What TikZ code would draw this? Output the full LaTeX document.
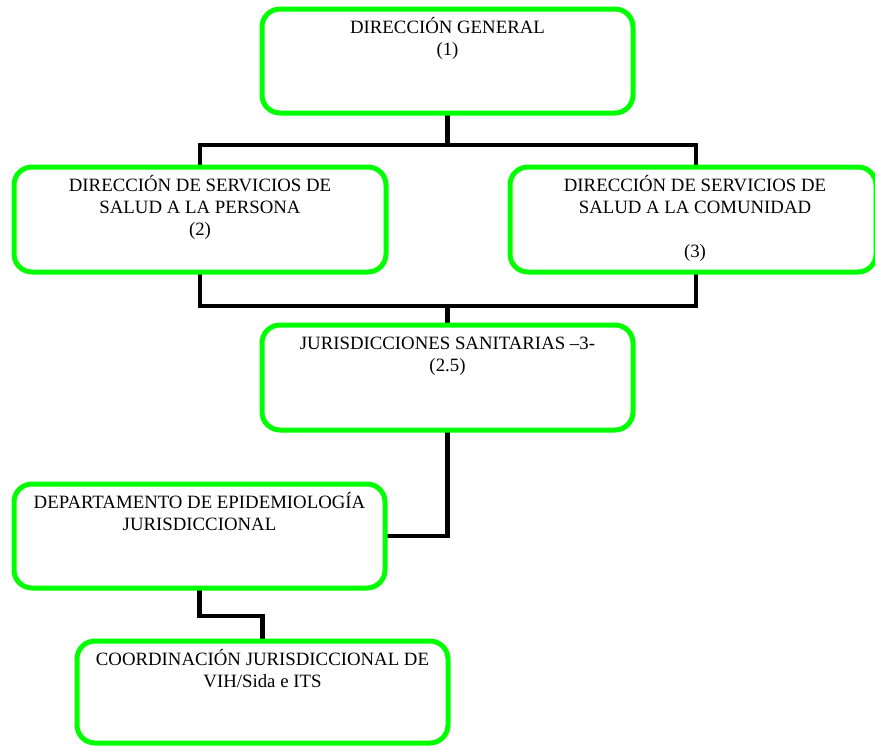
\documentclass[tikz,border=0pt]{standalone}
\usepackage{fontspec}
\setmainfont{Liberation Serif}
\pgfdeclarelayer{background}
\pgfsetlayers{background,main}
\definecolor{boxgreen}{RGB}{0,255,0}
\newcommand\lnstrut{\rule{0pt}{18pt}}
\begin{document}
\begin{tikzpicture}[x=1pt,y=-1pt,
  orgbox/.style={draw=boxgreen, fill=white, line width=5pt, rounded corners=18pt,
    anchor=north west, inner sep=0pt, outer sep=0pt},
  boxtext/.style={anchor=north, inner sep=0pt, align=center, yshift=-6pt,
    font=\fontsize{18.8pt}{22pt}\selectfont},
  conn/.style={draw=black, line width=4.6pt, line join=miter}]
\useasboundingbox (0,0) rectangle (875,747);

% organisation units
\node[orgbox, minimum width=371pt, minimum height=104pt,
  label={[boxtext]north:{\lnstrut DIRECCIÓN GENERAL\\(1)}}] (dg) at (262,9) {};
\node[orgbox, minimum width=372pt, minimum height=105pt,
  label={[boxtext]north:{\lnstrut DIRECCIÓN DE SERVICIOS DE\\SALUD A LA PERSONA\\(2)}}] (dsp) at (14,167) {};
\node[orgbox, minimum width=366pt, minimum height=105pt,
  label={[boxtext, xshift=2pt]north:{\lnstrut DIRECCIÓN DE SERVICIOS DE\\SALUD A LA COMUNIDAD\\[22pt](3)}}] (dsc) at (510,167) {};
\node[orgbox, minimum width=371pt, minimum height=105pt,
  label={[boxtext]north:{\lnstrut JURISDICCIONES SANITARIAS –3-\\(2.5)}}] (js) at (262,325) {};
\node[orgbox, minimum width=371pt, minimum height=104pt,
  label={[boxtext]north:{\lnstrut DEPARTAMENTO DE EPIDEMIOLOGÍA\\JURISDICCIONAL}}] (dep) at (14,484) {};
\node[orgbox, minimum width=371pt, minimum height=102pt,
  label={[boxtext]north:{\lnstrut COORDINACIÓN JURISDICCIONAL DE\\VIH/Sida e ITS}}] (coord) at (77,641) {};

% routing levels of the connectors
\coordinate (busA) at (0,145);
\coordinate (busB) at (0,306);
\coordinate (busC) at (0,616);
\coordinate (colR) at (696,0);

\begin{pgfonlayer}{background}
  \draw[conn] (dg.south) -- (dg.south |- busA);
  \draw[conn] (dsp.north) -- (dsp.north |- busA) -- (colR |- busA) -- (colR |- dsc.north);
  \draw[conn] (dsp.south) -- (dsp.south |- busB) -- (colR |- busB) -- (colR |- dsc.south);
  \draw[conn] (js.north) -- (js.north |- busB);
  \draw[conn] (js.south) |- (dep.east);
  \draw[conn] (dep.south) -- (dep.south |- busC) -- (coord.north |- busC) -- (coord.north);
\end{pgfonlayer}
\end{tikzpicture}
\end{document}
